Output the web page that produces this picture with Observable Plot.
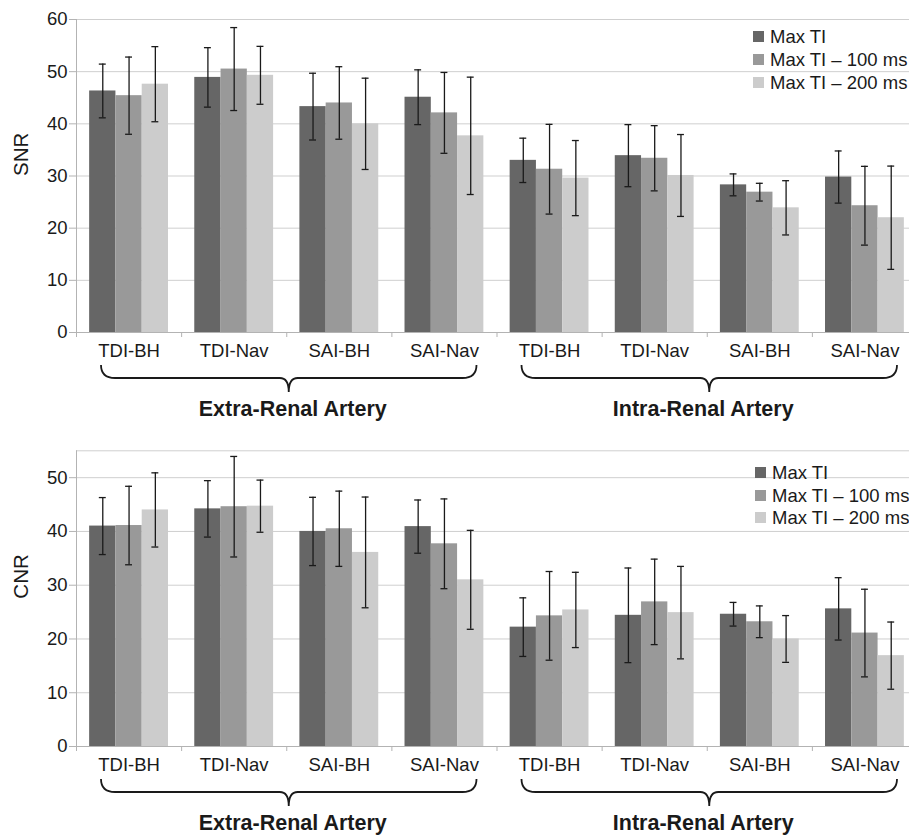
<!DOCTYPE html>
<html>
<head>
<meta charset="utf-8">
<script src="https://cdn.jsdelivr.net/npm/d3@7"></script>
<script src="https://cdn.jsdelivr.net/npm/@observablehq/plot@0.6"></script>
<style>
html,body{margin:0;padding:0;background:#fff;overflow:hidden;width:909px;height:840px}
#wrap{position:relative;width:909px;height:840px;overflow:hidden;font-family:"Liberation Sans",Arial,sans-serif}
.chart{position:absolute;left:0;width:925px}
.legend{position:absolute;font-size:18.5px;color:#1a1a1a;white-space:nowrap}
.legend .row{position:absolute;left:0;height:23px;line-height:23px}
.legend .sw{position:absolute;left:0;top:6px;width:11px;height:11px}
.legend .lb{position:absolute;left:17px;top:0}
</style>
</head>
<body>
<div id="wrap">
  <div class="chart" id="top" style="top:0"></div>
  <div class="chart" id="bottom" style="top:425px"></div>
  <div class="legend" id="legTop" style="left:753px;top:0"></div>
  <div class="legend" id="legBot" style="left:755px;top:0"></div>
</div>
<script>
// ---- data ----
const groups = ["Extra-Renal Artery", "Intra-Renal Artery"];
const methods = ["TDI-BH", "TDI-Nav", "SAI-BH", "SAI-Nav"];
const series = ["Max TI", "Max TI – 100 ms", "Max TI – 200 ms"];
const colors = ["#666666", "#999999", "#cccccc"];

// SNR means (8 categories: Extra x4, Intra x4)
const snrMaxTI    = [46.3, 48.9, 43.3, 45.1, 33.0, 33.9, 28.3, 29.8];
const snrMaxTI100 = [45.4, 50.5, 44.0, 42.1, 31.3, 33.4, 26.9, 24.3];
const snrMaxTI200 = [47.6, 49.3, 40.0, 37.7, 29.6, 30.1, 23.9, 22.0];
// SNR standard deviations
const snrSdMaxTI    = [5.15, 5.7, 6.4, 5.25, 4.25, 5.95, 2.1, 5.0];
const snrSdMaxTI100 = [7.4, 7.95, 6.95, 7.75, 8.6, 6.25, 1.7, 7.55];
const snrSdMaxTI200 = [7.2, 5.55, 8.75, 11.25, 7.2, 7.85, 5.2, 9.9];

// CNR means
const cnrMaxTI    = [41.0, 44.2, 40.0, 40.9, 22.2, 24.4, 24.6, 25.6];
const cnrMaxTI100 = [41.1, 44.6, 40.5, 37.7, 24.3, 26.9, 23.2, 21.1];
const cnrMaxTI200 = [44.0, 44.7, 36.1, 31.0, 25.4, 24.9, 20.0, 16.9];
// CNR standard deviations
const cnrSdMaxTI    = [5.3, 5.25, 6.35, 4.95, 5.45, 8.8, 2.2, 5.8];
const cnrSdMaxTI100 = [7.3, 9.35, 7.0, 8.35, 8.25, 7.95, 2.95, 8.15];
const cnrSdMaxTI200 = [6.9, 4.85, 10.3, 9.2, 7.0, 8.6, 4.35, 6.25];

const snrTicks = [0, 10, 20, 30, 40, 50, 60];
const cnrTicks = [0, 10, 20, 30, 40, 50];

// ---- helpers ----
const categories = groups.flatMap(() => methods); // 8 labels
const nCat = categories.length;

function buildRows(means, sds) {
  const rows = [];
  for (let ci = 0; ci < nCat; ci++)
    for (let si = 0; si < series.length; si++)
      rows.push({ci, si, s: series[si], v: means[si][ci], sd: sds[si][ci]});
  return rows;
}

function braceMark(spans) {
  return (index, scales) => {
    const g = d3.create("svg:g").attr("fill", "none").attr("stroke", "#1a1a1a").attr("stroke-width", 1.8);
    const y0 = scales.y(0);
    for (const [a, b] of spans) {
      const xL = scales.x(a) + 25, xR = scales.x(b) - 20, m = (xL + xR) / 2;
      const yT = y0 + 33, yH = y0 + 46, yB = y0 + 60, r = 14, r2 = 9;
      const p = `M${xL},${yT} Q${xL},${yH} ${xL + r},${yH} L${m - r2},${yH} Q${m},${yH} ${m},${yB} Q${m},${yH} ${m + r2},${yH} L${xR - r},${yH} Q${xR},${yH} ${xR},${yT}`;
      g.append("path").attr("d", p);
    }
    return g.node();
  };
}

function makeChart({rows, yMax, ticks, label, height, marginTop, marginBottom}) {
  const spans = groups.map((g, gi) => [gi * methods.length, (gi + 1) * methods.length]);
  const center = d => d.ci + 0.25 + d.si * 0.25;
  const caps = rows.flatMap(d => [{...d, y: d.v - d.sd}, {...d, y: d.v + d.sd}]);
  const groupLabel = (gi, dx) => Plot.text([groups[gi]], {x: () => gi * methods.length + methods.length / 2, text: d => d, frameAnchor: "bottom", dy: 83.7, dx, fontSize: 21.5, fontWeight: "bold", fill: "#1a1a1a"});
  return Plot.plot({
    width: 925,
    height,
    marginLeft: 76,
    marginRight: 8,
    marginTop,
    marginBottom,
    style: {maxWidth: "none", fontFamily: "'Liberation Sans', Arial, sans-serif", color: "#1a1a1a", background: "transparent", overflow: "visible"},
    x: {domain: [0, nCat]},
    y: {domain: [0, yMax]},
    color: {domain: series, range: colors},
    marks: [
      Plot.gridY({ticks, stroke: "#cfcfcf", strokeOpacity: 1}),
      Plot.ruleY([yMax], {stroke: "#cfcfcf"}),
      Plot.rectY(rows, {x1: d => d.ci + 0.125 + d.si * 0.25, x2: d => d.ci + 0.375 + d.si * 0.25, y: "v", fill: "s"}),
      Plot.ruleX(rows, {x: center, y1: d => d.v - d.sd, y2: d => d.v + d.sd, stroke: "#1a1a1a", strokeWidth: 1.3}),
      Plot.ruleY(caps, {y: "y", x1: d => center(d) - 0.033, x2: d => center(d) + 0.033, stroke: "#1a1a1a", strokeWidth: 1.3}),
      Plot.ruleX([0], {stroke: "#b3b3b3"}),
      Plot.ruleY([0], {stroke: "#b3b3b3"}),
      Plot.axisY({ticks, tickSize: 7, tickPadding: 2, fontSize: 18.5, stroke: "#b3b3b3", fill: "#1a1a1a", label: null}),
      Plot.axisX({ticks: d3.range(nCat + 1), tickSize: 5, tickFormat: () => "", stroke: "#b3b3b3", label: null}),
      Plot.axisX({ticks: d3.range(nCat).map(i => i + 0.5), tickSize: 0, tickPadding: 11.5, tickFormat: t => categories[Math.floor(t)], fontSize: 18.5, fill: "#1a1a1a", label: null}),
      braceMark(spans),
      groupLabel(0, 6),
      groupLabel(1, -4),
      Plot.text([label], {text: d => d, frameAnchor: "left", dx: -55.5, rotate: -90, fontSize: 20.5, fill: "#1a1a1a"})
    ]
  });
}

document.getElementById("top").append(makeChart({
  rows: buildRows([snrMaxTI, snrMaxTI100, snrMaxTI200], [snrSdMaxTI, snrSdMaxTI100, snrSdMaxTI200]),
  yMax: 60, ticks: snrTicks, label: "SNR", height: 425, marginTop: 19, marginBottom: 93
}));
document.getElementById("bottom").append(makeChart({
  rows: buildRows([cnrMaxTI, cnrMaxTI100, cnrMaxTI200], [cnrSdMaxTI, cnrSdMaxTI100, cnrSdMaxTI200]),
  yMax: 55, ticks: cnrTicks, label: "CNR", height: 415, marginTop: 25.3, marginBottom: 94
}));

function legend(el, centers) {
  series.forEach((s, i) => {
    const row = document.createElement("div");
    row.className = "row";
    row.style.top = (centers[i] - 11.5) + "px";
    const sw = document.createElement("span"); sw.className = "sw"; sw.style.background = colors[i];
    const lb = document.createElement("span"); lb.className = "lb"; lb.textContent = s;
    row.append(sw, lb);
    el.append(row);
  });
}
legend(document.getElementById("legTop"), [36, 59, 82]);
legend(document.getElementById("legBot"), [472.7, 495, 517.5]);
</script>
</body>
</html>
